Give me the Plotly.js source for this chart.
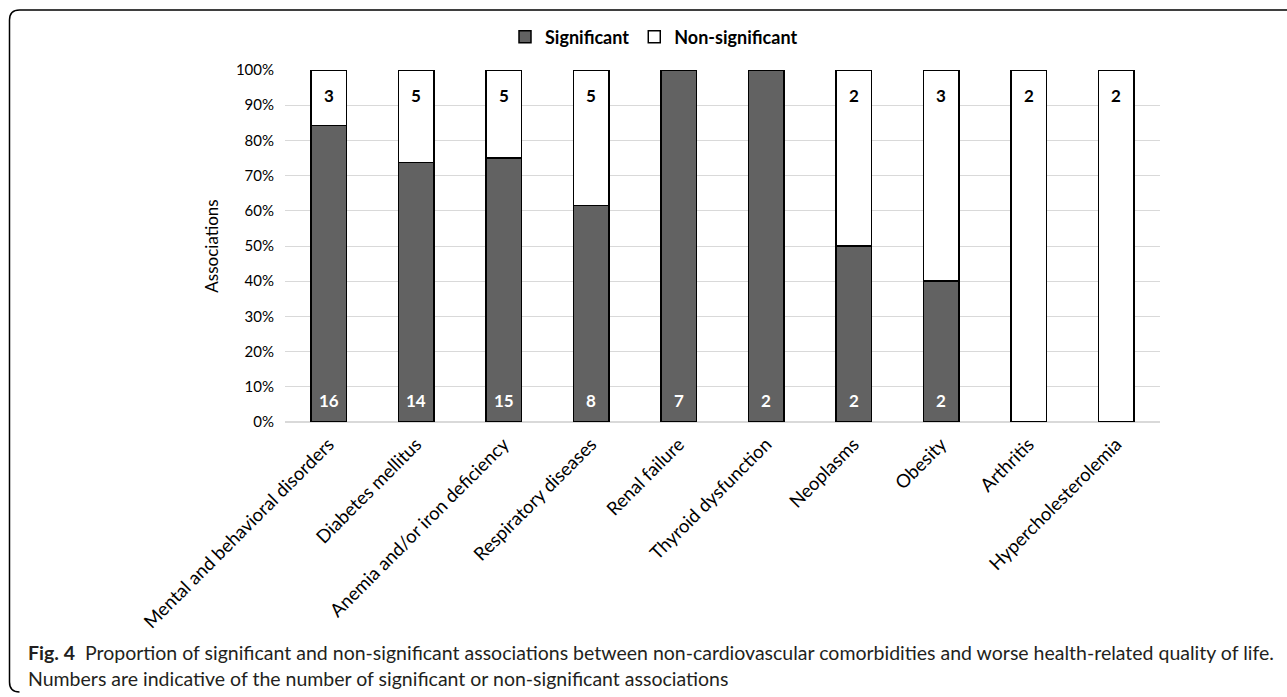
<!DOCTYPE html>
<html>
<head>
<meta charset="utf-8">
<script src="https://cdn.plot.ly/plotly-3.0.1.min.js"></script>
<style>
html,body{margin:0;padding:0;background:#fff;}
#chart{width:1287px;height:697px;}
</style>
</head>
<body>
<div id="chart"></div>
<script>
const categories = ["Mental and behavioral disorders","Diabetes mellitus","Anemia and/or iron deficiency","Respiratory diseases","Renal failure","Thyroid dysfunction","Neoplasms","Obesity","Arthritis","Hypercholesterolemia"];
const significant = [16,14,15,8,7,2,2,2,0,0];
const nonSignificant = [3,5,5,5,0,0,2,3,2,2];
const seriesNames = ["Significant","Non-significant"];
const yTickValues = [0,10,20,30,40,50,60,70,80,90,100];
const yTickLabels = ["0%","10%","20%","30%","40%","50%","60%","70%","80%","90%","100%"];

const W = 1287, H = 697;
const L = 285, R = 1160, T = 70, B = 422;
const px = x => (x - L) / (R - L);
const py = y => (B - y) / (B - T);

const FONT = "Lato, 'Liberation Sans', sans-serif";
const CAPFONT = "Lato, 'Open Sans', sans-serif";

const traces = [
  {type:'bar', name:seriesNames[0], x:categories, y:significant,
   marker:{color:'#626262', line:{color:'#000000', width:1.5}}, hoverinfo:'none'},
  {type:'bar', name:seriesNames[1], x:categories, y:nonSignificant,
   marker:{color:'#ffffff', line:{color:'#000000', width:1.5}}, hoverinfo:'none'}
];

const annotations = [];
categories.forEach((c,i)=>{
  if (significant[i] > 0) annotations.push({x:c, y:0, xref:'x', yref:'y', yshift:22, text:'<b>'+significant[i]+'</b>', showarrow:false, font:{family:FONT, size:17, color:'#ffffff'}});
  if (nonSignificant[i] > 0) annotations.push({x:c, y:100, xref:'x', yref:'y', yshift:-25, text:'<b>'+nonSignificant[i]+'</b>', showarrow:false, font:{family:FONT, size:17, color:'#000000'}});
});
annotations.push({xref:'paper', yref:'paper', x:px(26), y:py(652), xanchor:'left', yanchor:'middle', showarrow:false,
  text:'<b>Fig. 4</b>  Proportion of significant and non-significant associations between non-cardiovascular comorbidities and worse health-related quality of life.',
  font:{family:CAPFONT, size:19.5, color:'#231f20'}});
annotations.push({xref:'paper', yref:'paper', x:px(26), y:py(678), xanchor:'left', yanchor:'middle', showarrow:false,
  text:'Numbers are indicative of the number of significant or non-significant associations',
  font:{family:CAPFONT, size:19.5, color:'#231f20'}});

const r = 10;
const framePath = `M ${px(W)},${py(10)} L ${px(9.5+r)},${py(10)} Q ${px(9.5)},${py(10)} ${px(9.5)},${py(10+r)} L ${px(9.5)},${py(692-r)} Q ${px(9.5)},${py(692)} ${px(9.5+r)},${py(692)}`;

const layout = {
  width:W, height:H,
  margin:{l:L, r:W-R, t:T, b:H-B},
  paper_bgcolor:'#fff', plot_bgcolor:'#fff',
  barmode:'stack', barnorm:'percent', bargap:0.59,
  font:{family:FONT, color:'#000'},
  showlegend:true,
  legend:{orientation:'h', x:px(654), y:py(37), xanchor:'center', yanchor:'middle', traceorder:'normal',
    font:{family:FONT, size:18, color:'#000', weight:'bold'}, itemclick:false},
  xaxis:{tickangle:-45, tickfont:{family:FONT, size:18.5, color:'#000'}, showgrid:false, showline:false, ticks:'', zeroline:false, fixedrange:true, ticklabelstandoff:7},
  yaxis:{range:[0,100], tickvals:yTickValues, ticktext:yTickLabels, tickfont:{family:FONT, size:15, color:'#000'},
    showgrid:true, gridcolor:'#d9d9d9', gridwidth:1, zeroline:true, zerolinecolor:'#d9d9d9', zerolinewidth:1.5,
    showline:false, ticks:'', ticklen:0, automargin:false, fixedrange:true, ticklabelstandoff:10,
    title:{text:'Associations', font:{family:FONT, size:17, color:'#000'}, standoff:12}},
  annotations:annotations,
  shapes:[{type:'path', xref:'paper', yref:'paper', path:framePath, line:{color:'#000', width:1.5}}]
};

Plotly.newPlot('chart', traces, layout, {displayModeBar:false, staticPlot:true});
</script>
</body>
</html>
